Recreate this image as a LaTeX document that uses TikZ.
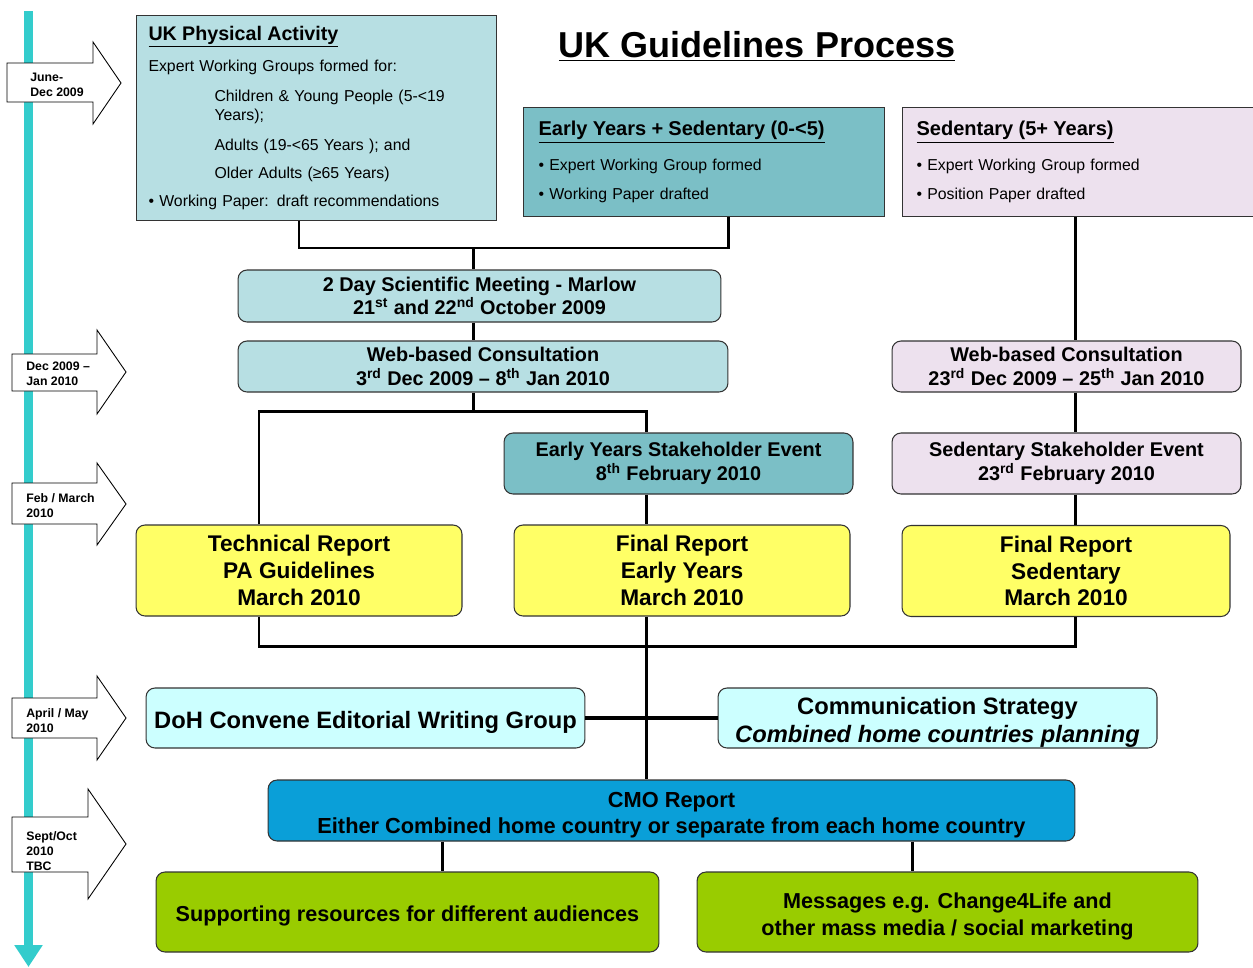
\documentclass[tikz,border=0pt]{standalone}
\usepackage{fontspec}
\setmainfont{Liberation Sans}
\usepackage{tikz}
\usetikzlibrary{arrows.meta}
\usepackage{xcolor}
\definecolor{paBlue}{HTML}{B7DFE3}
\definecolor{eyTeal}{HTML}{7BBFC6}
\definecolor{sedLilac}{HTML}{EDE1EE}
\definecolor{repYellow}{HTML}{FFFF66}
\definecolor{commCyan}{HTML}{CCFFFF}
\definecolor{cmoBlue}{HTML}{0A9FD8}
\definecolor{resGreen}{HTML}{99CC00}
\definecolor{tlCyan}{HTML}{33CCCC}

\begin{document}
\begin{tikzpicture}[
  x=0.02cm, y=-0.02cm,
  box/.style={draw=black!80,line width=0.6pt,align=center,inner sep=2pt,
    font=\bfseries\fontsize{11.3}{13.5}\selectfont},
  roundbox/.style={box,rounded corners=0.18cm},
  listbox/.style={box,align=left,anchor=north west,inner ysep=0pt,
    font=\fontsize{9}{10.8}\selectfont},
  report/.style={roundbox,fill=repYellow,minimum height=1.82cm,
    font=\bfseries\fontsize{12.9}{15.3}\selectfont},
  output/.style={roundbox,fill=resGreen,minimum height=1.6cm,inner ysep=0pt,
    font=\bfseries\fontsize{12.3}{15.3}\selectfont},
  link/.style={line width=1.7pt},
  timeline/.style={line width=5pt,draw=tlCyan,-{Triangle[width=0.54cm,length=0.44cm]}},
  datearrow/.style={draw=black,fill=white,line width=0.5pt},
  datelabel/.style={anchor=west,align=left,inner sep=0pt,
    font=\bfseries\fontsize{7}{8.5}\selectfont}
]
\useasboundingbox (0,0) rectangle (1253,967);

% time line with its date arrows
\draw[timeline] (28.5,11) -- (28.5,967);
\draw[datearrow] (7,63) -- (93,63) -- (93,42) -- (121,83) -- (93,124) -- (93,102) -- (7,102) -- cycle;
\node[datelabel] (d1) at (30,85) {June-\\Dec 2009};
\draw[datearrow] (12,354) -- (97,354) -- (97,330) -- (126,372) -- (97,414) -- (97,391) -- (12,391) -- cycle;
\node[datelabel] (d2) at (26,374) {Dec 2009 --\\Jan 2010};
\draw[datearrow] (12,483) -- (97,483) -- (97,463) -- (126,504) -- (97,545) -- (97,524) -- (12,524) -- cycle;
\node[datelabel] (d3) at (26,506) {Feb / March\\2010};
\draw[datearrow] (12,698) -- (97,698) -- (97,676) -- (126,718) -- (97,760) -- (97,738) -- (12,738) -- cycle;
\node[datelabel] (d4) at (26,721) {April / May\\2010};
\draw[datearrow] (12,817) -- (88,817) -- (88,789) -- (126,844) -- (88,899) -- (88,872) -- (12,872) -- cycle;
\node[datelabel] (d5) at (26,851) {Sept/Oct\\2010\\TBC};

\node[font=\bfseries\fontsize{20.5}{24}\selectfont] (title) at (757,46) {\underline{UK Guidelines Process}};

% expert groups
\node[listbox,fill=paBlue,text width=6.72cm,inner xsep=0.24cm,minimum height=4.1cm] (pa) at (136,15)
  {{\bfseries\fontsize{11.2}{13}\selectfont\underline{UK Physical Activity}}\\[6.2pt]
   Expert Working Groups formed for:\\[6.2pt]
   \hspace*{1.32cm}Children \& Young People (5-<19\\
   \hspace*{1.32cm}Years);\\[6.2pt]
   \hspace*{1.32cm}Adults (19-<65 Years ); and\\[5pt]
   \hspace*{1.32cm}Older Adults (≥65 Years)\\[5.6pt]
   • Working Paper: draft recommendations};
\node[listbox,fill=eyTeal,text width=6.62cm,inner xsep=0.3cm,minimum height=2.18cm] (ey) at (523,107)
  {{\bfseries\fontsize{11.4}{13}\selectfont\underline{Early Years + Sedentary (0-<5)}}\\[7.9pt]
   • Expert Working Group formed\\[6.2pt]
   • Working Paper drafted};
\node[listbox,fill=sedLilac,text width=6.82cm,inner xsep=0.28cm,minimum height=2.18cm] (sed) at (902,107)
  {{\bfseries\fontsize{11.4}{13}\selectfont\underline{Sedentary (5+ Years)}}\\[7.9pt]
   • Expert Working Group formed\\[6.2pt]
   • Position Paper drafted};

% meetings and consultations
\node[roundbox,fill=paBlue,minimum width=9.66cm,minimum height=1.04cm] (meet) at (479.5,296)
  {2 Day Scientific Meeting - Marlow\\21\textsuperscript{st} and 22\textsuperscript{nd} October 2009};
\node[roundbox,fill=paBlue,minimum width=9.8cm,minimum height=1.02cm] (webl) at (483,366.5)
  {Web-based Consultation\\3\textsuperscript{rd} Dec 2009 -- 8\textsuperscript{th} Jan 2010};
\node[roundbox,fill=sedLilac,minimum width=6.98cm,minimum height=1.02cm] (webr) at (1066.5,366.5)
  {Web-based Consultation\\23\textsuperscript{rd} Dec 2009 -- 25\textsuperscript{th} Jan 2010};
\node[roundbox,fill=eyTeal,minimum width=6.98cm,minimum height=1.22cm] (eys) at (678.5,463.5)
  {Early Years Stakeholder Event\\8\textsuperscript{th} February 2010};
\node[roundbox,fill=sedLilac,minimum width=6.98cm,minimum height=1.22cm] (seds) at (1066.5,463.5)
  {Sedentary Stakeholder Event\\23\textsuperscript{rd} February 2010};

% reports
\node[report,minimum width=6.52cm] (tech) at (299,570.5) {Technical Report\\PA Guidelines\\March 2010};
\node[report,minimum width=6.72cm] (fey) at (682,570.5) {Final Report\\Early Years\\March 2010};
\node[report,minimum width=6.56cm] (fsed) at (1066,571) {Final Report\\Sedentary\\March 2010};

\node[roundbox,fill=commCyan,minimum width=8.78cm,minimum height=1.2cm,inner ysep=0pt,
  font=\bfseries\fontsize{13.5}{15.9}\selectfont] (doh) at (365.5,718)
  {\rule{0pt}{14.4pt}DoH Convene Editorial Writing Group};
\node[roundbox,fill=commCyan,minimum width=8.78cm,minimum height=1.2cm,inner ysep=0pt,
  font=\bfseries\fontsize{13.5}{15.9}\selectfont] (comm) at (937.5,718)
  {\rule{0pt}{14.4pt}Communication Strategy\\\textit{Combined home countries planning}};
\node[roundbox,fill=cmoBlue,minimum width=16.14cm,minimum height=1.22cm,inner ysep=0pt,
  font=\bfseries\fontsize{12.4}{14.7}\selectfont] (cmo) at (671.5,810.5)
  {\rule{0pt}{13.6pt}CMO Report\\Either Combined home country or separate from each home country};
\node[output,minimum width=10.06cm] (supp) at (407.5,912)
  {\rule{0pt}{13.5pt}Supporting resources for different audiences};
\node[output,minimum width=10.02cm] (msg) at (947.5,912)
  {\rule{0pt}{13.5pt}Messages e.g. Change4Life and\\other mass media / social marketing};

% junctions
\coordinate (jtl) at (299,248);
\coordinate (jtm) at (473,248);
\coordinate (jtr) at (728,248);
\coordinate (jml) at (259,411);
\coordinate (jmm) at (473,411);
\coordinate (jmr) at (646,411);
\coordinate (jbl) at (259,646);
\coordinate (jbm) at (646,646);
\coordinate (jbr) at (1075,646);
\coordinate (jgl) at (442,856);
\coordinate (jgr) at (912,856);

\draw[link] (jtl |- pa.south) -- (jtl) -- (jtr) -- (jtr |- ey.south);
\draw[link] (jtm) -- (jtm |- meet.north);
\draw[link] (jtm |- meet.south) -- (jtm |- webl.north);
\draw[link] (jmm |- webl.south) -- (jmm);
\draw[link] (jml |- tech.north) -- (jml) -- (jmr) -- (jmr |- eys.north);
\draw[link] (jmr |- eys.south) -- (jmr |- fey.north);
\draw[link] (jbr |- sed.south) -- (jbr |- webr.north);
\draw[link] (jbr |- webr.south) -- (jbr |- seds.north);
\draw[link] (jbr |- seds.south) -- (jbr |- fsed.north);
\draw[link] (jbl |- tech.south) -- (jbl) -- (jbr) -- (jbr |- fsed.south);
\draw[link] (jbm |- fey.south) -- (jbm |- cmo.north);
\draw[link,line width=2.6pt] (doh.east) -- (comm.west);
\draw[link] (jgl |- cmo.south) -- (jgl |- supp.north);
\draw[link] (jgr |- cmo.south) -- (jgr |- msg.north);
\end{tikzpicture}
\end{document}
